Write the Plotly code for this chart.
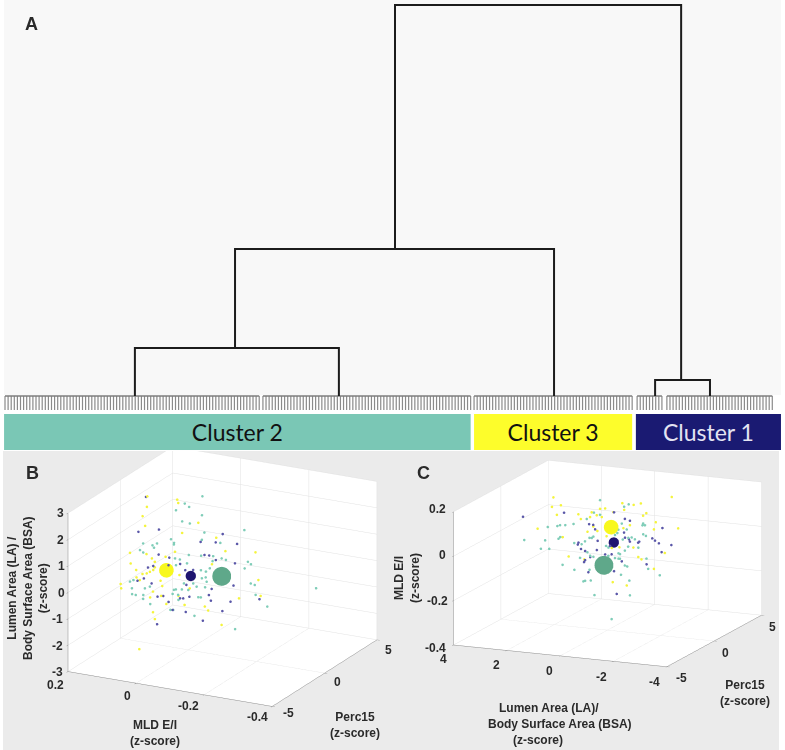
import plotly.graph_objects as go

W, H = 785, 750

# dendrogram, x in leaf positions, height in arbitrary distance units
leaf_groups = [(0.0, 83), (83.2, 68), (151.3, 52), (203.9, 9), (213.5, 35)]
node_left = [41.9, 74.2, 125.8, 209.7]
node_right = [107.7, 177.1, 218.1, 227.4]
node_height = [4.8, 14.7, 39.1, 1.6]
child_left_base = [0, 4.8, 14.7, 0]
child_right_base = [0, 0, 1.6, 0]

cluster_names = ['Cluster 2', 'Cluster 3', 'Cluster 1']
cluster_start = [-0.3, 151.3, 203.5]
cluster_size = [150.5, 51.0, 46.8]
cluster_fill = ['#7ac7b5', '#fdfd2b', '#1a1a72']
cluster_text = ['#111111', '#111111', '#e4e4f2']

# panel B, Perc15 is only a rough guess there
b_y_mld = [.121, .153, .104, .189, .064, .030, .002, -.012, -.020, -.170, -.197, .141, .170, .123, .185, .046, .099, .166, .092, .175, .042, .099, .174, .122, .138, .167, .082, .108, .082, .166, .019, .065, .135, .068, .091, -.050, -.048, -.027, -.128, -.087, -.267, -.212, .098, .009, .058, -.035, -.069, .083]
b_y_perc = [0, 1, -1, 2, 1, 0, 1, -1, 2, -2, 0, -1, 0, -1, 2, -2, 0, 1, -1, 2, -2, 0, 1, -1, -2, -1, 0, 1, -1, 2, -2, 0, 1, -1, 2, -2, 0, 1, -1, 2, -2, 0, 1, -1, 2, -2, 0, -2]
b_y_la = [2.55, 1.83, 2.09, .78, 2.30, 2.50, 1.56, 1.71, .79, 1.62, 1.13, .62, -.10, .01, -.28, .87, .12, -.74, -.05, -.93, .44, -.09, -.99, -.27, -.30, -.78, -.56, -1.07, -.94, -1.66, -.49, -1.40, -2.12, -1.73, -1.66, -.68, -1.25, -1.70, -1.52, -1.36, .74, -.49, .06, .95, -1.30, .42, .40, -2.65]

b_n_mld = [.125, .178, .056, .026, -.162, -.080, -.112, .057, .118, -.037, -.047, -.030, -.111, -.075, .042, .119, .162, .119, .170, -.003, .091, .105, -.006, .077, -.064, -.060, -.035, -.163, -.062, -.270, .008, .123, -.073, -.038, -.015, -.068, .037, .028, .048, -.052]
b_n_perc = [0, 1, -1, 2, -2, 0, 1, -1, 2, -2, 0, 1, -1, 2, -2, 0, 1, -1, 2, -2, 0, 1, -1, 2, -2, 0, 1, -1, 2, -2, 0, 1, -1, 2, -2, 0, 1, -1, 2, -2]
b_n_la = [2.52, .83, 1.69, .53, 2.25, 1.25, 1.01, .74, -.27, .84, .70, .39, .90, -.06, .59, -.14, -.90, -.39, -1.36, -.67, -1.18, -1.44, -.78, -1.72, -.34, -.79, -1.31, .05, -1.54, .02, -1.58, -2.55, -1.48, -1.95, -.95, -.54, -.87, .40, -.58, .64]

b_t_mld = [-.010, .011, .029, .006, .022, -.043, -.004, -.016, -.195, .113, -.019, .043, .164, .075, .154, .081, .133, .132, -.070, -.032, -.022, -.001, .056, -.068, -.011, -.159, -.110, .035, .006, -.113, -.245, -.165, -.040, -.082, -.001, -.098, .172, .131, .197, .135, .155, .159, .102, .195, .051, .043, .068, .016, .075, -.061, -.024, .002, -.067, .092, -.042, -.014, -.018, -.070, .011, -.032, -.183, -.164, -.228, -.170, -.079, -.137, .084, .014, .175, -.115, -.375]
b_t_perc = [1, 0, 1, -1, 2, -2, 0, 1, -1, 2, -2, 0, 1, -1, 2, -2, 0, 1, -1, 2, -2, 0, 1, -1, 2, -2, 0, 1, -1, 2, -2, 0, 1, -1, 2, -2, 0, -1, 1, -1, 0, 1, -1, 2, -2, 0, 1, -1, 2, -2, 0, 1, -1, 2, -2, 0, 1, -1, 2, -2, 0, 1, -1, 2, -2, 0, 1, -1, 2, -2, 0]
b_t_la = [2.59, 2.52, 2.10, 2.53, 1.55, 2.47, 1.80, 1.23, 2.22, .44, 1.60, .90, .42, 1.05, .19, 1.11, .40, .33, 1.58, .62, 1.02, .60, .05, .97, .07, 1.32, .65, -.05, .45, .08, 1.29, .45, .20, .40, -.41, .74, -.79, -.39, -1.35, -.93, -1.26, -1.27, -.89, -2.00, -.87, -.82, -1.11, -.66, -1.15, -.09, -.55, -1.26, -.61, -1.62, -.11, -.45, -.84, .12, -.78, -.53, -.08, -.43, -.16, -1.49, -1.03, -1.91, -1.92, -1.26, -1.49, .34, .16]

# panel C, same idea
c_y_la = [2.03, -1.70, 1.73, 2.46, 1.19, 2.62, 1.45, .24, 1.71, -.43, .09, -.20, -.98, -.27, -1.25, -1.10, -1.69, -1.10, -3.36, -1.74, .76, -.14, 1.09, .04, -.84, -.24, -.32, 2.39, .75, .87, -.80, -1.63, -1.03, -2.86, -.97, -.09, -.55, -.01, -.87, -.22, .89, .30]
c_y_perc = [0, 2, -1, 2, -2, 0, 1, -1, 2, -2, 0, 1, -1, 2, 0, 1, -1, 2, -2, 0, 1, -1, 2, -2, 0, 1, -1, 2, -2, 0, 1, -1, 2, -2, 0, 1, -1, 2, -2, 0, 1, -1]
c_y_mld = [.173, .174, .157, .086, .151, .025, .081, .151, .033, .198, .147, .151, .177, .121, .186, .117, .159, .053, .146, .075, .085, .134, -.013, .089, .083, .039, .050, -.057, -.031, -.092, -.084, -.038, -.158, .029, -.016, -.049, -.154, -.245, .027, .134, .033, .129]

c_n_la = [1.63, .32, -.60, .06, -1.55, .69, .89, .11, .09, -.34, 1.09, 1.47, .64, 1.55, -.31, .09, .20, -.89, 1.36, .17, .72, .11, -1.82, -1.35, -2.39, -1.78, -1.57, -2.75, -1.32, -1.90, -1.15, -.45, -.70, .62, -1.55, .84, -.30, -.45, 3.17]
c_n_perc = [0, 1, -1, 2, -2, 0, 1, -1, 2, -2, 0, 1, -1, 2, -2, 0, 1, -1, 2, -2, 0, 1, -1, 2, -2, 0, 1, -1, 2, -2, 0, 1, -1, 2, -2, 0, 1, -1, 0]
c_n_mld = [.109, .061, .161, .054, .158, .069, .040, .076, -.008, .053, -.019, -.056, -.019, -.109, .011, -.060, -.084, -.056, -.134, -.049, -.148, -.159, -.058, .030, .089, .025, -.013, .040, -.079, .068, .008, -.009, -.205, .036, .064, -.095, -.003, .008, .072]

c_t_la = [.28, -.44, -.98, 1.22, .07, .28, 1.63, 1.23, 2.49, 1.17, 2.24, -.98, -1.76, -.60, 1.63, 2.50, 2.54, 1.42, 2.55, .54, .97, 1.20, .32, 1.30, -.18, -.37, -.05, -1.26, -.63, -2.15, -.78, -.67, -.89, -.01, -.99, -.57, .41, -.39, .24, -1.12, -.65, -.42, .40, 1.36, -.18, 1.03, 2.04, .89, .06, -1.45, -1.46, -1.17, -.86, -1.25, -.08, .84, 1.26, .32, -.11, -.22, -.84, .20, -.82, .43, -.74, -.41, 3.48, -1.51]
c_t_perc = [0, 1, -1, 2, -2, 0, 1, -1, 2, -2, 0, 1, -1, 2, -2, 0, 1, -1, 2, -2, 0, 1, -1, 2, -2, 0, 1, -1, 2, -2, 0, 1, -1, 2, -2, 0, 1, -1, 2, -2, 0, 1, -1, 2, -2, 0, 1, -1, 2, -2, 0, 1, -1, 2, -2, 0, 1, -1, 2, -2, 0, 1, -1, 2, -2, 0, 1, -1]
c_t_mld = [.182, .149, .191, .068, .146, .116, .035, .081, -.004, .101, .037, .069, .117, .033, .031, -.064, -.088, .025, -.066, .032, -.025, -.038, .035, -.047, .070, .042, .030, .056, -.007, .097, .025, -.006, .114, .007, .087, .015, -.049, .000, -.107, .006, -.034, -.042, -.031, -.128, -.021, -.087, -.154, -.116, -.156, -.049, -.060, -.133, -.117, -.184, -.129, -.188, -.219, -.109, -.222, -.193, -.233, -.376, -.045, -.127, -.010, -.073, -.060, .013]

# cluster centres: yellow, navy, green
centre_mld = [.066, -.004, -.103]
centre_perc = [.02, .08, -.19]
centre_la = [-.124, -.204, .074]
centre_size = [17, 12, 22]
centre_colour = ['#f8f81e', '#1f1570', '#5fa88a']
dot_colour = ['#f4f43c', '#5a57a8', '#7fcdb8']

# tick label text, with where the reference prints each one
b_tick_text = ['3', '2', '1', '0', '-1', '-2', '-3', '0.2', '0', '-0.2', '-0.4', '-5', '0', '5']
b_tick_x = [60, 60, 61, 61, 57, 57, 57, 55, 127, 188, 257, 288, 337, 388]
b_tick_y = [513, 540, 566, 593, 619, 646, 672, 685, 696, 706, 717, 713, 682, 650]
c_tick_text = ['0.2', '0', '-0.2', '-0.4', '4', '2', '0', '-2', '-4', '-5', '0', '5']
c_tick_x = [437, 442, 437, 435, 443, 496, 549, 601, 654, 681, 725, 772]
c_tick_y = [509, 555, 601, 648, 659, 665, 671, 677, 682, 678, 653, 627]


def px(x):
    return x / W


def py(y):
    return 1 - y / H


fig = go.Figure()

# leaf ticks along the bottom of the dendrogram
stub_x, stub_y = [], []
top_x, top_y = [], []
for start, count in leaf_groups:
    for i in range(count):
        stub_x += [start + i, start + i, None]
        stub_y += [0, -1.4, None]
    top_x += [start, start + count - 1, None]
    top_y += [0, 0, None]
fig.add_trace(go.Scatter(x=stub_x, y=stub_y, mode='lines', line=dict(color='#8a8a8a', width=1.2)))
fig.add_trace(go.Scatter(x=top_x, y=top_y, mode='lines', line=dict(color='#7d7d7d', width=1.5)))

link_x, link_y = [], []
for l, r, h, lb, rb in zip(node_left, node_right, node_height, child_left_base, child_right_base):
    link_x += [l, l, r, r, None]
    link_y += [lb, h, h, rb, None]
fig.add_trace(go.Scatter(x=link_x, y=link_y, mode='lines', line=dict(color='#1c1c1c', width=2)))

fig.add_trace(go.Bar(
    y=[0, 0, 0], x=cluster_size, base=cluster_start, orientation='h', yaxis='y2', width=1,
    marker=dict(color=cluster_fill, line=dict(width=0)), text=cluster_names,
    textposition='inside', insidetextanchor='middle', textangle=0,
    textfont=dict(family='Lato', size=23, color=cluster_text),
))


def add_cloud(scene, xs, ys, zs, colour):
    fig.add_trace(go.Scatter3d(x=xs, y=ys, z=zs, mode='markers', scene=scene,
                               marker=dict(size=1.5, color=colour, line=dict(width=0))))


add_cloud('scene', b_y_perc, b_y_mld, b_y_la, dot_colour[0])
add_cloud('scene', b_n_perc, b_n_mld, b_n_la, dot_colour[1])
add_cloud('scene', b_t_perc, b_t_mld, b_t_la, dot_colour[2])
fig.add_trace(go.Scatter3d(x=centre_perc, y=centre_mld, z=centre_la, mode='markers', scene='scene',
                           marker=dict(size=centre_size, color=centre_colour, opacity=1, line=dict(width=0))))

add_cloud('scene2', c_y_perc, c_y_la, c_y_mld, dot_colour[0])
add_cloud('scene2', c_n_perc, c_n_la, c_n_mld, dot_colour[1])
add_cloud('scene2', c_t_perc, c_t_la, c_t_mld, dot_colour[2])
fig.add_trace(go.Scatter3d(x=centre_perc, y=centre_la, z=centre_mld, mode='markers', scene='scene2',
                           marker=dict(size=centre_size, color=centre_colour, opacity=1, line=dict(width=0))))


def axis3d(lo, hi, ticks):
    return dict(range=[lo, hi], tickvals=ticks, title=dict(text=''), showticklabels=False,
                showbackground=True, backgroundcolor='white', gridcolor='#e2e2e2', gridwidth=1,
                showline=True, linecolor='#8c8c8c', linewidth=1, zeroline=False, showspikes=False,
                ticks='outside', ticklen=3, tickcolor='#8c8c8c')


# with an orthographic camera the aspect ratio sets the drawn size
fig.update_layout(
    width=W, height=H, margin=dict(l=0, r=0, t=0, b=0), showlegend=False,
    paper_bgcolor='white', plot_bgcolor='rgba(0,0,0,0)',
    xaxis=dict(domain=[0, 1], range=[-1.613, 251.6], visible=False),
    yaxis=dict(domain=[py(412), 1], range=[-1.6, 39.6], visible=False),
    yaxis2=dict(domain=[py(450), py(414)], range=[-0.5, 0.5], visible=False, anchor='x'),
    scene=dict(
        domain=dict(x=[0, px(445)], y=[0, py(451)]),
        xaxis=axis3d(-5, 5, [-5, 0, 5]),
        yaxis=axis3d(-0.4, 0.2, [-0.4, -0.2, 0, 0.2]),
        zaxis=axis3d(-3, 3, [-3, -2, -1, 0, 1, 2, 3]),
        aspectmode='manual', aspectratio=dict(x=1.523, y=1.538, z=1.122),
        camera=dict(eye=dict(x=-1.68, y=-0.87, z=0.49), center=dict(x=0, y=0, z=-0.17),
                    projection=dict(type='orthographic')),
    ),
    scene2=dict(
        domain=dict(x=[px(430), 1], y=[0, py(377)]),
        xaxis=axis3d(-5, 5, [-5, 0, 5]),
        yaxis=axis3d(-4, 4, [-4, -2, 0, 2, 4]),
        zaxis=axis3d(-0.4, 0.2, [-0.4, -0.2, 0, 0.2]),
        aspectmode='manual', aspectratio=dict(x=1.278, y=1.246, z=0.735),
        camera=dict(eye=dict(x=-1.78, y=-0.77, z=0.47), projection=dict(type='orthographic')),
    ),
)

fig.add_shape(type='rect', xref='paper', yref='paper', x0=px(4), x1=px(781), y0=py(395), y1=1,
              fillcolor='#f8f8f8', line_width=0, layer='below')
fig.add_shape(type='rect', xref='paper', yref='paper', x0=px(3), x1=px(779), y0=0, y1=py(451),
              fillcolor='#ebebeb', line_width=0, layer='below')


def note(x, y, text, size=12, angle=0):
    fig.add_annotation(x=px(x), y=py(y), xref='paper', yref='paper', text=text, showarrow=False,
                       textangle=angle, xanchor='center', yanchor='middle', align='center',
                       font=dict(family='Liberation Sans', size=size, color='#2a2a2a', weight='bold'))


note(31, 24, 'A', 18)
note(32, 473, 'B', 18)
note(423, 473, 'C', 18)
note(27, 588, 'Lumen Area (LA) /<br>Body Surface Area (BSA)<br>(z-score)', angle=-90)
note(155, 733, 'MLD E/I<br>(z-score)')
note(355, 725, 'Perc15<br>(z-score)')
note(407, 578, 'MLD E/I<br>(z-score)', angle=-90)
note(549, 708, 'Lumen Area (LA)/')
note(560, 724, 'Body Surface Area (BSA)')
note(538, 740, '(z-score)')
note(745, 693, 'Perc15<br>(z-score)')
# scene tick labels collide at the box corners, so they are placed by hand
for t, x, y in zip(b_tick_text, b_tick_x, b_tick_y):
    note(x, y, t)
for t, x, y in zip(c_tick_text, c_tick_x, c_tick_y):
    note(x, y, t)

# page margin off so the figure starts at the window corner
fig.write_html("out.html", post_script="document.body.style.margin='0';",
               config={'displayModeBar': False})
